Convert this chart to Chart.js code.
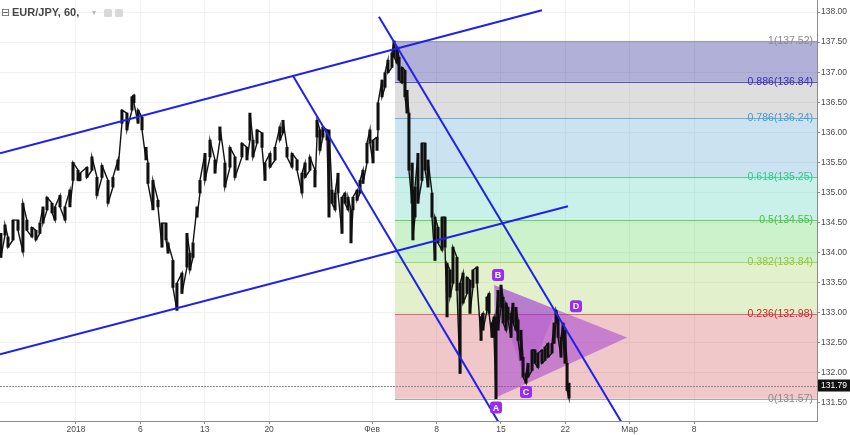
<!DOCTYPE html>
<html>
<head>
<meta charset="utf-8">
<script src="https://cdn.jsdelivr.net/npm/chart.js@4.4.1/dist/chart.umd.min.js"></script>
<style>
  html, body { margin: 0; padding: 0; background: #fff; }
  canvas { display: block; }
</style>
</head>
<body>
<canvas id="chart" width="850" height="435"></canvas>
<script>
// EUR/JPY, 60 -- price in trading days from 1 Jan 2018 (weekends skipped)
const barTime = [
  -5.83, -5.51, -5.28, -4.89, -4.50, -4.12, -3.81, -3.42, -3.11, -2.80,
  -2.56, -2.25, -1.86, -1.63, -1.24, -0.85, -0.47, -0.23, 0.16, 0.31,
  0.85, 1.24, 1.63, 2.02, 2.49, 2.87, 3.26, 3.57, 3.96, 4.35,
  4.50, 4.82, 5.13, 5.44, 5.59, 5.98, 6.37, 6.68, 6.99, 7.15,
  7.53, 7.84, 8.23, 8.62, 8.85, 9.09, 9.40, 9.63, 10.02, 10.41,
  10.80, 11.18, 11.57, 11.96, 12.35, 12.89, 13.28, 13.51, 13.75, 14.06,
  14.45, 14.68, 15.07, 15.46, 15.84, 16.08, 16.39, 16.78, 17.17, 17.55,
  17.79, 18.17, 18.56, 18.72, 18.95, 19.18, 19.50, 19.65, 19.88, 20.12,
  20.35, 20.66, 20.89, 21.13, 21.36, 21.51, 21.83, 22.06, 22.29, 22.60,
  22.83, 23.07, 23.38, 23.46, 23.77, 24.00, 24.23, 24.54, 24.70, 24.93,
  25.09, 25.32, 25.55, 25.71, 25.86, 26.10, 26.17, 26.33, 26.56, 26.87,
  27.11, 27.34, 27.65, 27.88, 28.12, 28.43, 28.66, 28.82, 29.05, 29.28,
  29.59, 29.83, 30.06, 30.37, 30.60, 30.83, 31.15, 31.46, 31.61, 31.92,
  32.08, 32.31, 32.47, 32.62, 32.78, 33.01, 33.17, 33.40, 33.55, 33.79,
  33.94, 34.17, 34.33, 34.56, 34.72, 34.95, 35.11, 35.42, 35.65, 35.88,
  36.19, 36.43, 36.66, 36.97, 37.13, 37.28, 37.44, 37.67, 37.83, 37.98,
  38.14, 38.29
];
const barHigh = [
  134.32, 134.46, 134.26, 134.54, 134.54, 134.82, 134.54, 134.42, 134.37, 134.49,
  134.76, 134.92, 134.82, 134.76, 134.95, 134.76, 135.04, 135.50, 135.37, 135.32,
  135.42, 135.59, 135.25, 135.45, 135.20, 135.25, 135.54, 136.37, 136.32, 136.59,
  136.62, 136.37, 136.25, 135.75, 135.49, 135.20, 134.87, 134.49, 134.49, 134.16,
  133.87, 133.49, 133.66, 134.32, 133.99, 134.16, 134.76, 135.20, 135.65, 135.87,
  135.54, 136.09, 135.49, 135.75, 135.59, 135.82, 135.75, 136.32, 135.87, 136.04,
  135.99, 135.49, 135.65, 135.75, 136.09, 136.20, 135.75, 135.65, 135.54, 135.32,
  135.49, 135.59, 135.37, 136.20, 136.04, 136.09, 136.04, 136.04, 135.04, 134.99,
  135.32, 134.92, 134.99, 134.92, 134.71, 134.92, 135.04, 135.20, 135.37, 135.82,
  136.04, 135.87, 135.92, 136.49, 136.87, 136.99, 137.20, 137.32, 137.52, 137.42,
  137.25, 137.08, 137.03, 136.70, 136.32, 135.49, 135.04, 135.09, 135.65, 135.82,
  135.82, 135.54, 134.99, 134.59, 134.42, 134.59, 134.59, 133.82, 133.71, 134.09,
  133.92, 133.49, 133.66, 133.59, 133.54, 133.71, 133.76, 132.93, 132.99, 133.26,
  133.32, 132.83, 132.93, 132.93, 133.37, 133.46, 133.26, 133.16, 133.09, 132.99,
  133.16, 133.09, 132.88, 132.71, 132.26, 131.99, 132.16, 132.38, 132.38, 132.33,
  132.38, 132.43, 132.49, 132.49, 132.83, 133.04, 132.93, 132.59, 132.83, 132.71,
  132.16, 131.83
];
const barLow = [
  133.92, 134.29, 134.09, 134.21, 134.37, 134.01, 134.37, 134.26, 134.21, 134.32,
  134.49, 134.71, 134.66, 134.54, 134.76, 134.54, 134.76, 135.20, 135.20, 135.20,
  135.25, 135.37, 134.95, 135.25, 134.82, 135.09, 135.37, 136.15, 136.04, 136.37,
  136.49, 136.15, 136.04, 135.54, 135.15, 134.71, 134.76, 134.09, 134.21, 133.99,
  133.42, 133.04, 133.32, 133.76, 133.71, 133.92, 134.59, 134.99, 135.20, 135.59,
  135.32, 135.87, 135.09, 135.42, 135.25, 135.59, 135.54, 135.87, 135.59, 135.82,
  135.75, 135.20, 135.42, 135.54, 135.87, 135.99, 135.59, 135.42, 135.37, 134.99,
  135.25, 135.37, 135.09, 135.92, 135.70, 135.92, 135.87, 134.59, 134.82, 134.71,
  134.99, 134.32, 134.82, 134.71, 134.16, 134.71, 134.87, 134.99, 135.15, 135.49,
  135.82, 135.49, 135.70, 136.04, 136.59, 136.75, 136.99, 137.08, 137.25, 137.15,
  136.87, 136.82, 136.59, 136.32, 135.37, 134.82, 134.21, 134.59, 134.82, 135.20,
  135.37, 135.09, 134.59, 133.87, 134.16, 134.04, 134.09, 132.93, 133.26, 133.49,
  133.37, 131.99, 133.16, 133.32, 132.99, 133.42, 133.49, 132.54, 132.71, 133.04,
  132.99, 132.59, 132.59, 131.57, 132.71, 133.09, 132.83, 132.71, 132.88, 132.59,
  132.83, 132.71, 132.54, 132.21, 131.93, 131.83, 131.93, 132.04, 132.16, 132.09,
  132.16, 132.21, 132.26, 132.33, 132.49, 132.83, 132.59, 132.26, 132.54, 132.16,
  131.71, 131.58
];
const lastPrice = 131.79;

// x axis ticks (trading-day positions) and their labels
const xTickPos = [0, 5, 10, 15, 23, 28, 33, 38, 43, 48];
const xTickLabels = ["2018", "6", "13", "20", "Фев", "8", "15", "22", "Мар", "8"];
const yTicks = [131.5, 132, 132.5, 133, 133.5, 134, 134.5, 135, 135.5, 136, 136.5, 137, 137.5, 138];

// drawings
const upperChannel = [{ x: -5.90, y: 135.65 }, { x: 36.19, y: 138.03 }];
const lowerChannel = [{ x: -5.90, y: 132.31 }, { x: 38.21, y: 134.77 }];
const fallLeft = [{ x: 16.85, y: 136.94 }, { x: 33.32, y: 131.00 }];
const fallRight = [{ x: 23.53, y: 137.92 }, { x: 42.87, y: 131.00 }];

const fibStart = 24.78;
const fibRatios = ["1", "0.886", "0.786", "0.618", "0.5", "0.382", "0.236", "0"];
const fibPrices = [137.52, 136.84, 136.24, 135.25, 134.55, 133.84, 132.98, 131.57];
const fibFill = [
  "rgba(60,58,160,0.4)", "rgba(172,172,172,0.4)", "rgba(125,185,220,0.4)",
  "rgba(120,220,200,0.4)", "rgba(125,222,125,0.4)", "rgba(182,220,125,0.4)",
  "rgba(217,117,122,0.4)"
];
const fibLine = ["#a0a0a0", "#5555b5", "#6aaed6", "#5ecb9e", "#66cc66", "#a4d66a", "#d46a6a", "#a8a8a8"];
const fibText = ["#8a8a8a", "#3333b0", "#3d9bd6", "#2ec98a", "#44c444", "#99c433", "#cc2626", "#8a8a8a"];

const pointA = { x: 32.62, y: 131.59 };
const pointB = { x: 32.47, y: 133.46 };
const pointC = { x: 34.95, y: 131.83 };
const pointD = { x: 37.28, y: 133.06 };
const apex = { x: 42.80, y: 132.59 };

// bars as wicks, plus a zigzag through them so the series reads as one trace
const bars = barTime.map((t, i) => ({ x: t, y: [barLow[i], barHigh[i]] }));
const zigzag = [];
barTime.forEach((t, i) => {
  const a = i % 2 ? barLow[i] : barHigh[i];
  const b = i % 2 ? barHigh[i] : barLow[i];
  zigzag.push({ x: t, y: a }, { x: t, y: b });
});

const blue = "#2020ee";
const line = (data, color, width) => ({
  type: "line", data, borderColor: color, borderWidth: width,
  pointRadius: 0, tension: 0, fill: false, order: 0
});

function roundRect(ctx, x, y, w, h, r) {
  ctx.beginPath();
  ctx.moveTo(x + r, y);
  ctx.arcTo(x + w, y, x + w, y + h, r);
  ctx.arcTo(x + w, y + h, x, y + h, r);
  ctx.arcTo(x, y + h, x, y, r);
  ctx.arcTo(x, y, x + w, y, r);
  ctx.closePath();
}

const drawings = {
  id: "drawings",
  beforeDatasetsDraw(chart) {
    const { ctx, chartArea: a, scales: { x, y } } = chart;
    ctx.save();
    ctx.beginPath();
    ctx.rect(a.left, a.top, a.width, a.height);
    ctx.clip();

    // fibonacci retracement
    const x0 = x.getPixelForValue(fibStart);
    for (let i = 0; i < fibPrices.length - 1; i++) {
      const y1 = y.getPixelForValue(fibPrices[i]);
      const y2 = y.getPixelForValue(fibPrices[i + 1]);
      ctx.fillStyle = fibFill[i];
      ctx.fillRect(x0, y1, a.right - x0, y2 - y1);
    }
    ctx.lineWidth = 1;
    ctx.font = "10.5px 'Liberation Sans', Arial, sans-serif";
    ctx.textAlign = "right";
    ctx.textBaseline = "middle";
    fibPrices.forEach((p, i) => {
      const yy = Math.round(y.getPixelForValue(p)) + 0.5;
      ctx.strokeStyle = fibLine[i];
      ctx.beginPath();
      ctx.moveTo(x0, yy);
      ctx.lineTo(a.right, yy);
      ctx.stroke();
      ctx.fillStyle = fibText[i];
      ctx.fillText(fibRatios[i] + "(" + p.toFixed(2) + ")", a.right - 4, yy);
    });

    // last price line
    const yl = Math.round(y.getPixelForValue(lastPrice)) + 0.5;
    ctx.strokeStyle = "#8a8a8a";
    ctx.setLineDash([2, 1]);
    ctx.beginPath();
    ctx.moveTo(a.left, yl);
    ctx.lineTo(a.right, yl);
    ctx.stroke();
    ctx.setLineDash([]);

    // triangle pattern
    const P = (p) => [x.getPixelForValue(p.x), y.getPixelForValue(p.y)];
    const poly = (pts, color) => {
      ctx.beginPath();
      pts.map(P).forEach(([px, py], i) => (i ? ctx.lineTo(px, py) : ctx.moveTo(px, py)));
      ctx.closePath();
      ctx.fillStyle = color;
      ctx.fill();
    };
    poly([pointB, pointA, apex], "rgba(150,40,210,0.45)");
    poly([pointB, pointC, pointD], "rgba(150,40,210,0.22)");
    ctx.restore();
  },
  afterDraw(chart) {
    const { ctx, chartArea: a, scales: { x, y } } = chart;
    ctx.save();

    // pattern point labels
    ctx.font = "bold 9px 'Liberation Sans', Arial, sans-serif";
    ctx.textAlign = "center";
    ctx.textBaseline = "middle";
    [["A", pointA, 0, 10], ["B", pointB, 4, -10], ["C", pointC, 0, 9], ["D", pointD, 20, -3]].forEach(([t, p, dx, dy]) => {
      const px = x.getPixelForValue(p.x) + dx;
      const py = y.getPixelForValue(p.y) + dy;
      ctx.fillStyle = "#9a2cf2";
      roundRect(ctx, px - 6, py - 6, 12, 12, 3);
      ctx.fill();
      ctx.fillStyle = "#fff";
      ctx.fillText(t, px, py + 0.5);
    });

    // last price tag on the axis
    const yl = y.getPixelForValue(lastPrice);
    ctx.fillStyle = "#111";
    ctx.fillRect(a.right + 1, yl - 6, chart.width - a.right - 1, 12);
    ctx.fillStyle = "#fff";
    ctx.font = "8.5px 'Liberation Sans', Arial, sans-serif";
    ctx.textAlign = "left";
    ctx.fillText(lastPrice.toFixed(2), a.right + 4, yl + 0.5);

    // header
    ctx.fillStyle = "#666";
    ctx.font = "11px 'DejaVu Sans', sans-serif";
    ctx.fillText("⊟", 1, 13);
    ctx.fillStyle = "#474747";
    ctx.font = "bold 11px 'Liberation Sans', Arial, sans-serif";
    ctx.fillText("EUR/JPY, 60,", 12, 13);
    ctx.fillStyle = "#b8b8b8";
    ctx.font = "8px 'DejaVu Sans', sans-serif";
    ctx.fillText("▾", 92, 13);
    ctx.fillStyle = "#d8d8d8";
    roundRect(ctx, 104, 9, 8, 8, 1.5); ctx.fill();
    roundRect(ctx, 115, 9, 8, 8, 1.5); ctx.fill();
    ctx.restore();
  }
};

new Chart(document.getElementById("chart"), {
  type: "bar",
  data: {
    datasets: [
      line(upperChannel, blue, 2),
      line(lowerChannel, blue, 2),
      line(fallLeft, blue, 2),
      line(fallRight, blue, 2),
      { type: "line", data: zigzag, borderColor: "#111", borderWidth: 1.4, pointRadius: 0, tension: 0, fill: false, order: 1 },
      { type: "bar", data: bars, backgroundColor: "#111", barThickness: 2.4, grouped: false, order: 2 }
    ]
  },
  options: {
    responsive: false,
    devicePixelRatio: 1,
    animation: false,
    events: [],
    layout: { padding: 0 },
    plugins: { legend: { display: false }, tooltip: { enabled: false } },
    scales: {
      x: {
        type: "linear", position: "bottom", min: -5.9, max: 57.55, offset: false,
        grid: { color: "#f1f1f1", tickColor: "#8c8c8c", tickLength: 3, offset: false },
        border: { color: "#8c8c8c" },
        ticks: {
          autoSkip: false, maxRotation: 0, padding: 1, color: "#4a4a4a",
          font: { family: "'Liberation Sans', Arial, sans-serif", size: 8.5 },
          callback: (v) => xTickLabels[xTickPos.indexOf(v)]
        },
        afterBuildTicks: (s) => { s.ticks = xTickPos.map((v) => ({ value: v })); },
        afterFit: (s) => { s.height = 14; s.paddingLeft = 0; s.paddingRight = 0; }
      },
      y: {
        type: "linear", position: "right", min: 131.2, max: 138.2,
        grid: { color: "#f1f1f1", tickColor: "#8c8c8c", tickLength: 3 },
        border: { color: "#8c8c8c" },
        ticks: {
          padding: 1, color: "#4a4a4a",
          font: { family: "'Liberation Sans', Arial, sans-serif", size: 8.5 },
          callback: (v) => v.toFixed(2)
        },
        afterBuildTicks: (s) => { s.ticks = yTicks.map((v) => ({ value: v })); },
        afterFit: (s) => { s.width = 33; s.paddingTop = 0; s.paddingBottom = 0; }
      }
    }
  },
  plugins: [drawings]
});
</script>
</body>
</html>
